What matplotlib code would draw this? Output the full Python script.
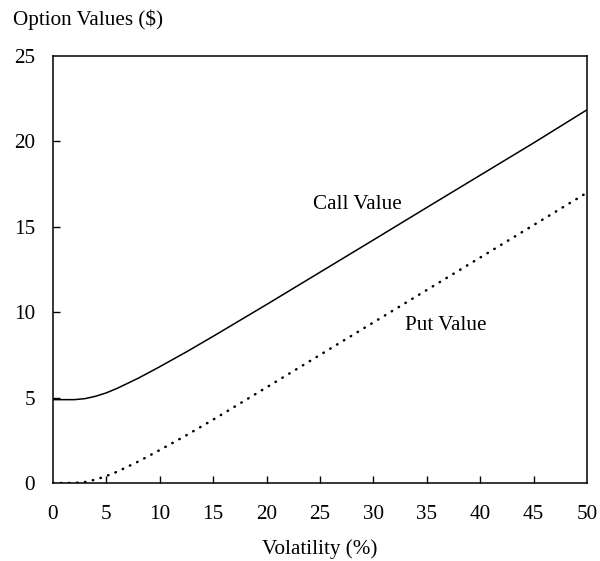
import matplotlib
matplotlib.use("Agg")
import matplotlib.pyplot as plt

plt.rcParams['font.family'] = ['Liberation Serif', 'DejaVu Serif']

volatility = [0, 1, 2, 3, 4, 5, 6, 8, 10, 12.5, 15, 20, 25, 30, 35, 40, 45, 50]
call_values = [4.88, 4.88, 4.88, 4.94, 5.08, 5.28, 5.54, 6.14, 6.81, 7.68, 8.59,
               10.45, 12.34, 14.23, 16.13, 18.02, 19.91, 21.85]
put_values = [0.0, 0.0, 0.004, 0.06, 0.2, 0.41, 0.66, 1.26, 1.93, 2.8, 3.71,
              5.6, 7.5, 9.4, 11.3, 13.2, 15.1, 17.0]
x_ticks = [0, 5, 10, 15, 20, 25, 30, 35, 40, 45, 50]
y_ticks = [0, 5, 10, 15, 20, 25]

FS = 15.2

fig = plt.figure(figsize=(6.0, 5.61), dpi=100)
ax = fig.add_axes([53/600, 1-483/561, (587-53)/600, (483-56)/561])

ax.plot(volatility, call_values, color='black', lw=1.1, solid_capstyle='butt')
ax.plot(volatility, put_values, color='black', lw=1.8,
        linestyle=(0, (0.2, 3.0)), dash_capstyle='round')

ax.set_xlim(0, 50)
ax.set_ylim(0, 25)
ax.set_xticks(x_ticks)
ax.set_yticks(y_ticks)
ax.set_xticklabels([str(v) for v in x_ticks])
ax.set_yticklabels([str(v) for v in y_ticks])
ax.tick_params(axis='both', direction='in', length=5, width=1.0,
               labelsize=FS, colors='black')
ax.tick_params(axis='x', pad=16)
ax.tick_params(axis='y', pad=13)
for tk in (ax.xaxis.get_major_ticks()[0], ax.xaxis.get_major_ticks()[-1],
           ax.yaxis.get_major_ticks()[0], ax.yaxis.get_major_ticks()[-1]):
    tk.tick1line.set_visible(False)
    tk.tick2line.set_visible(False)
for s in ax.spines.values():
    s.set_linewidth(1.1)
    s.set_color('black')

ax.set_xlabel('Volatility (%)', fontsize=FS, labelpad=11)
ax.text(24.3, 16.3, 'Call Value', fontsize=FS, ha='left', va='center')
ax.text(32.96, 9.25, 'Put Value', fontsize=FS, ha='left', va='center')
fig.text(13/600, 1-20/561, 'Option Values ($)', fontsize=FS, ha='left', va='center')

fig.savefig('out.png', dpi=100)
